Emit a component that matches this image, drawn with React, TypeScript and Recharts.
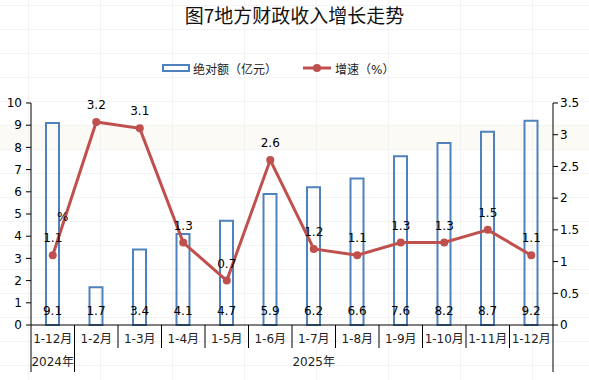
import { ComposedChart, Bar, Line, XAxis, YAxis, LabelList } from "recharts";

const months = ["1-12月", "1-2月", "1-3月", "1-4月", "1-5月", "1-6月", "1-7月", "1-8月", "1-9月", "1-10月", "1-11月", "1-12月"];
const amount = [9.1, 1.7, 3.4, 4.1, 4.7, 5.9, 6.2, 6.6, 7.6, 8.2, 8.7, 9.2];
const growth = [1.1, 3.2, 3.1, 1.3, 0.7, 2.6, 1.2, 1.1, 1.3, 1.3, 1.5, 1.1];
const years = [
  { label: "2024年", from: 0, to: 0 },
  { label: "2025年", from: 1, to: 11 },
];
const leftTicks = [0, 1, 2, 3, 4, 5, 6, 7, 8, 9, 10];
const rightTicks = [0, 0.5, 1, 1.5, 2, 2.5, 3, 3.5];

const title = "图7地方财政收入增长走势";
const barName = "绝对额（亿元）";
const lineName = "增速（%）";

const data = months.map((m, i) => ({ month: m, amount: amount[i], growth: growth[i] }));

const BLUE = "#4F81BD";
const RED = "#C0504D";
const FONT = '"DejaVu Sans", "Noto Sans CJK SC", sans-serif';

const W = 589;
const H = 380;
const PLOT_LEFT = 31;
const PLOT_RIGHT = 36;

const MonthTick = (props: any) => {
  const { x, y, payload } = props;
  const i = payload.index ?? props.index;
  const half = payload.offset || (W - PLOT_LEFT - PLOT_RIGHT) / months.length / 2;
  const group = years.find((g) => g.from === i);
  const isLast = i === months.length - 1;
  return (
    <g>
      <line x1={x - half} x2={x - half} y1={y} y2={y + (group ? 47 : 23)} stroke="#000" />
      {isLast && <line x1={x + half} x2={x + half} y1={y} y2={y + 47} stroke="#000" />}
      <text x={x} y={y + 14} textAnchor="middle" dominantBaseline="central" fontSize={12} fill="#222" fontFamily={FONT}>
        {months[i]}
      </text>
      {group && (
        <text
          x={x + ((group.from + group.to) / 2 - i) * half * 2}
          y={y + 37}
          textAnchor="middle"
          dominantBaseline="central"
          fontSize={12}
          fill="#222"
          fontFamily={FONT}
        >
          {group.label}
        </text>
      )}
    </g>
  );
};

const BarLabel = (props: any) => {
  const { x, y, width, height, value } = props;
  return (
    <text x={x + width / 2} y={y + height - 14} textAnchor="middle" dominantBaseline="central" fontSize={12} fill="#000" fontFamily={FONT}>
      {value}
    </text>
  );
};

const LineLabel = (props: any) => {
  const { x, y, value, index } = props;
  return (
    <g>
      <text x={x} y={y - 17} textAnchor="middle" dominantBaseline="central" fontSize={12} fill="#000" fontFamily={FONT}>
        {value}
      </text>
      {index === 0 && (
        <text x={x + 10} y={y - 38} textAnchor="middle" dominantBaseline="central" fontSize={12} fill="#000" fontFamily={FONT}>
          %
        </text>
      )}
    </g>
  );
};

export default function App() {
  return (
    <div
      style={{
        position: "absolute",
        left: 0,
        top: 0,
        width: W,
        height: H,
        background: "#fff",
        fontFamily: FONT,
        overflow: "hidden",
      }}
    >
      {/* faint page background: beige band + light grid */}
      <div style={{ position: "absolute", left: 0, top: 125, width: W, height: 24, background: "#fcfaf4" }} />
      <div
        style={{
          position: "absolute",
          inset: 0,
          backgroundImage:
            "linear-gradient(to right, #f3f3f3 1px, transparent 1px), linear-gradient(to bottom, #f3f3f3 1px, transparent 1px)",
          backgroundSize: "72px 24px",
          backgroundPosition: "28px 5px",
        }}
      />
      <div
        style={{
          position: "absolute",
          left: 0,
          top: 4,
          width: W,
          textAlign: "center",
          fontSize: 19,
          lineHeight: "22px",
          color: "#111",
          fontFamily: '"Noto Sans CJK SC", "DejaVu Sans", sans-serif',
        }}
      >
        {title}
      </div>
      <div style={{ position: "absolute", left: 162, top: 60, height: 16, display: "flex", alignItems: "center", fontSize: 12, color: "#222" }}>
        <svg width={28} height={8} style={{ marginRight: 3 }}>
          <rect x={1} y={1} width={26} height={6} fill="none" stroke={BLUE} strokeWidth={2} />
        </svg>
        <span>{barName}</span>
        <svg width={29} height={10} style={{ marginLeft: 26, marginRight: 3 }}>
          <line x1={0} x2={28} y1={5} y2={5} stroke={RED} strokeWidth={3} />
          <circle cx={14} cy={5} r={4} fill={RED} />
        </svg>
        <span>{lineName}</span>
      </div>
      <div style={{ position: "absolute", left: 0, top: 0 }}>
        <ComposedChart width={W} height={H} data={data} margin={{ top: 103, right: 0, bottom: 0, left: 0 }}>
          <XAxis
            dataKey="month"
            xAxisId="m"
            height={55}
            tickSize={0}
            tickMargin={0}
            interval={0}
            tick={<MonthTick />}
            axisLine={{ stroke: "#000" }}
          />
          <YAxis
            yAxisId="left"
            width={PLOT_LEFT}
            domain={[0, 10]}
            ticks={leftTicks}
            interval={0}
            tickSize={5}
            tickMargin={4}
            axisLine={{ stroke: "#000" }}
            tickLine={{ stroke: "#000" }}
            tick={{ fill: "#000", fontSize: 12, fontFamily: FONT }}
          />
          <YAxis
            yAxisId="right"
            orientation="right"
            width={PLOT_RIGHT}
            domain={[0, 3.5]}
            ticks={rightTicks}
            interval={0}
            tickSize={5}
            tickMargin={2}
            axisLine={{ stroke: "#000" }}
            tickLine={{ stroke: "#000" }}
            tick={{ fill: "#000", fontSize: 12, fontFamily: FONT }}
          />
          <Bar
            xAxisId="m"
            yAxisId="left"
            dataKey="amount"
            name={barName}
            barSize={13}
            fill="none"
            stroke={BLUE}
            strokeWidth={2}
            isAnimationActive={false}
          >
            <LabelList dataKey="amount" content={<BarLabel />} />
          </Bar>
          <Line
            xAxisId="m"
            yAxisId="right"
            dataKey="growth"
            name={lineName}
            type="linear"
            stroke={RED}
            strokeWidth={3}
            dot={{ r: 4, fill: RED, stroke: RED, strokeWidth: 0 }}
            isAnimationActive={false}
          >
            <LabelList dataKey="growth" content={<LineLabel />} />
          </Line>
        </ComposedChart>
      </div>
    </div>
  );
}
